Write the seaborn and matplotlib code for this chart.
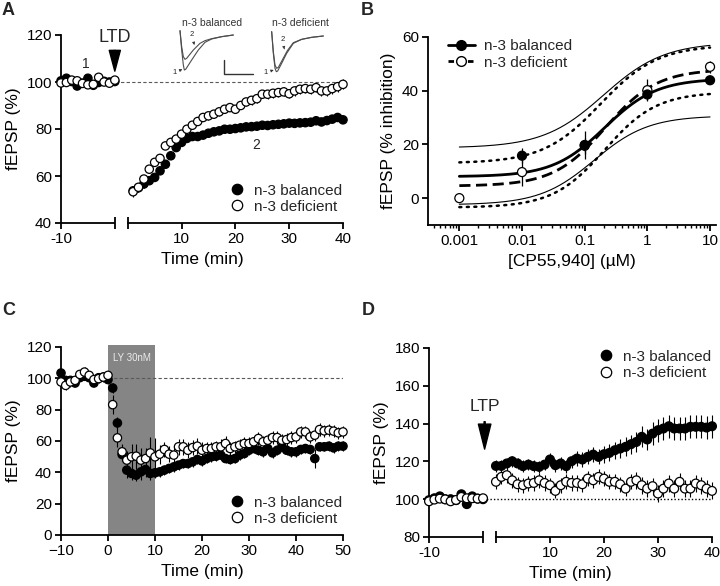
import numpy as np
import pandas as pd
import matplotlib
matplotlib.use('Agg')
import matplotlib.pyplot as plt
from matplotlib.lines import Line2D
from matplotlib.ticker import LogLocator, NullFormatter
import seaborn as sns

# %%%%%%%%%%%%%%%%%%%%%%%%%%%%%%%%%%%%%%%%%%%%%%%%%%%%%%%%%%%%%%%%%%%%%%%%%%%%%
#                         DATA
# %%%%%%%%%%%%%%%%%%%%%%%%%%%%%%%%%%%%%%%%%%%%%%%%%%%%%%%%%%%%%%%%%%%%%%%%%%%%%
groups = ['n-3 balanced', 'n-3 deficient']

# Panel A: LTD time course (baseline -10..0, post 1..40 min)
a_base_time = list(range(-10, 1))
a_base_bal = [100.5, 101.6, 100.2, 98.3, 99.5, 101.6, 98.6, 99.8, 100.3, 100.0, 100.2]
a_base_def = [99.6, 99.8, 100.8, 100.5, 99.4, 98.8, 99.0, 102.0, 100.0, 99.5, 100.8]
a_post_time = list(range(1, 41))
a_post_bal = [53.7, 55.0, 56.6, 58.0, 59.4, 62.2, 65.0, 68.6, 72.1, 74.3,
              76.0, 76.8, 76.8, 77.4, 78.2, 78.8, 79.2, 79.9, 79.9, 80.2,
              80.5, 80.9, 81.0, 81.2, 81.6, 81.5, 81.8, 82.0, 82.2, 82.5,
              82.4, 82.6, 82.7, 82.9, 83.5, 83.0, 83.6, 84.2, 84.9, 83.9]
a_post_def = [53.3, 55.2, 58.7, 62.9, 65.8, 67.5, 72.8, 74.3, 75.7, 77.8,
              79.9, 81.6, 83.2, 84.9, 85.6, 86.3, 87.3, 88.4, 89.1, 88.4,
              90.0, 91.5, 92.2, 92.9, 94.8, 94.8, 95.2, 95.5, 95.8, 95.0,
              96.2, 96.9, 97.2, 96.9, 97.6, 96.2, 96.2, 97.2, 98.0, 99.0]
a_base_err = [1.0, 1.0, 1.0, 1.0, 1.0, 1.0, 1.0, 1.0, 1.0, 1.0, 1.0]
a_post_bal_err = [2.0, 1.8, 1.6, 1.5, 1.5, 1.4, 1.4, 1.3, 1.3, 1.2,
                  1.2, 1.2, 1.1, 1.1, 1.1, 1.1, 1.1, 1.1, 1.1, 1.1,
                  1.2, 1.2, 1.2, 1.2, 1.2, 1.2, 1.2, 1.2, 1.2, 1.2,
                  1.3, 1.3, 1.3, 1.3, 1.3, 1.3, 1.3, 1.3, 1.4, 1.4]
a_post_def_err = [2.2, 1.8, 1.6, 1.5, 1.5, 1.5, 1.4, 1.4, 1.4, 1.4,
                  1.5, 1.5, 1.5, 1.5, 1.6, 1.6, 1.6, 1.6, 1.6, 1.7,
                  1.7, 1.8, 1.8, 1.8, 1.8, 1.9, 1.9, 1.9, 1.9, 2.0,
                  2.0, 2.0, 2.0, 2.0, 2.0, 2.1, 2.1, 2.1, 2.1, 2.1]

# Panel B: dose-response to CP55,940
b_conc_bal = [0.01, 0.1, 1, 10]
b_resp_bal = [15.8, 19.8, 38.6, 43.9]
b_err_bal = [2.8, 5.1, 2.2, 1.5]
b_conc_def = [0.001, 0.01, 0.1, 1, 10]
b_resp_def = [0.0, 9.7, 19.5, 40.2, 48.9]
b_err_def = [0.0, 5.0, 3.0, 4.0, 2.2]
# sigmoid fits: bottom, top, logEC50, hill slope
fit_bal = [8.0, 44.5, -0.68, 1.05]
fit_def = [4.5, 48.0, -0.67, 1.05]
ci_bal_upper = [18.7, 58.0, -0.70, 0.90]
ci_bal_lower = [-2.5, 30.7, -0.85, 1.00]
ci_def_upper = [13.0, 57.0, -0.75, 0.95]
ci_def_lower = [-3.5, 39.5, -0.68, 1.05]
b_xticks = [0.001, 0.01, 0.1, 1, 10]
b_xticklabels = ['0.001', '0.01', '0.1', '1', '10']

# Panel C: LY 30nM application (0-10 min)
c_time = list(range(-10, 51))
c_bal = [103.4, 98.7, 98.7, 97.0, 100.4, 101.3, 100.4, 97.0, 100.4, 100.8,
         99.2, 93.8, 71.5, 51.4, 41.4, 39.3, 38.2, 40.3, 41.8, 39.3,
         39.7, 40.3, 41.4, 42.5, 43.5, 44.6, 45.6, 45.6, 46.7, 48.2,
         47.3, 48.8, 49.9, 50.3, 51.0, 48.8, 48.2, 48.8, 51.0, 52.0,
         54.1, 55.2, 54.1, 53.1, 55.2, 52.4, 54.1, 56.3, 54.1, 53.1,
         53.1, 54.6, 55.2, 54.6, 48.8, 56.3, 56.3, 56.7, 55.6, 56.7, 56.7]
c_def = [97.7, 95.5, 97.7, 98.7, 102.5, 104.0, 101.9, 99.2, 99.8, 100.8,
         101.9, 83.2, 62.0, 53.1, 47.8, 49.9, 50.3, 47.8, 48.8, 52.4,
         49.9, 51.6, 54.6, 51.6, 51.0, 56.3, 56.3, 54.1, 55.8, 56.7,
         54.1, 55.2, 55.2, 56.3, 56.3, 58.4, 55.2, 56.3, 57.3, 58.4,
         58.4, 59.5, 61.6, 59.5, 60.5, 62.2, 62.2, 60.5, 60.9, 62.2,
         62.6, 65.8, 65.8, 62.6, 63.7, 67.3, 66.5, 66.9, 66.3, 65.2, 65.8]
c_bal_err = [2.0, 2.0, 2.0, 2.0, 2.0, 2.0, 2.0, 2.0, 2.0, 2.0,
             2.0, 3.0, 4.0, 4.0, 5.0, 4.0, 4.0, 5.0, 5.0, 4.0,
             3.0, 3.0, 3.0, 3.0, 3.0, 3.0, 3.0, 3.0, 3.0, 3.0,
             3.0, 3.0, 3.0, 3.0, 3.0, 3.0, 3.0, 3.0, 3.0, 3.0,
             3.0, 3.0, 3.0, 3.0, 3.0, 3.0, 3.0, 3.0, 3.0, 3.0,
             3.0, 3.0, 3.0, 3.0, 6.0, 3.0, 3.0, 3.0, 3.0, 3.0, 3.0]
c_def_err = [3.0, 3.0, 3.0, 3.0, 3.0, 3.0, 3.0, 3.0, 3.0, 3.0,
             3.0, 6.0, 6.0, 5.0, 6.0, 8.0, 8.0, 8.0, 7.0, 10.0,
             12.0, 6.0, 5.0, 5.0, 5.0, 5.0, 5.0, 5.0, 5.0, 5.0,
             5.0, 4.0, 4.0, 4.0, 5.0, 5.0, 4.0, 4.0, 4.0, 4.0,
             4.0, 4.0, 4.0, 4.0, 4.0, 4.0, 4.0, 4.0, 4.0, 4.0,
             4.0, 4.0, 4.0, 4.0, 4.0, 4.0, 4.0, 4.0, 4.0, 4.0, 4.0]

# Panel D: LTP time course (baseline -10..0, post 0..40 min)
d_base_time = list(range(-10, 1))
d_base_bal = [99.5, 100.5, 101.5, 100.0, 100.0, 99.5, 102.6, 97.4, 101.5, 100.3, 100.0]
d_base_def = [98.9, 99.8, 100.3, 99.9, 98.9, 99.6, 101.2, 100.5, 100.5, 100.3, 100.5]
d_base_err = [1.0, 1.0, 1.0, 1.0, 1.0, 1.0, 1.0, 1.0, 1.0, 1.0, 1.0]
d_post_time = list(range(0, 41))
d_post_bal = [117.6, 117.6, 118.9, 120.1, 118.9, 117.5, 118.3, 117.5, 117.1, 118.3,
              121.0, 118.0, 118.9, 117.5, 120.1, 121.5, 121.0, 122.4, 123.6, 122.4,
              123.8, 124.5, 125.9, 126.8, 127.7, 129.1, 130.3, 133.0, 131.6, 134.7,
              136.5, 137.4, 138.6, 137.4, 137.4, 137.4, 138.3, 138.3, 138.3, 137.9, 138.6]
d_post_def = [109.2, 111.8, 112.7, 110.0, 107.9, 107.4, 108.3, 108.6, 110.0, 108.6,
              107.4, 104.4, 107.4, 109.2, 108.6, 108.6, 107.9, 110.9, 110.0, 111.8,
              110.9, 109.2, 109.2, 107.9, 105.6, 109.2, 110.0, 107.4, 105.6, 106.9,
              103.0, 105.6, 108.3, 105.6, 109.2, 105.6, 105.6, 108.3, 107.4, 105.6, 104.4]
d_post_bal_err = [3.0, 3.0, 3.0, 3.0, 3.0, 3.0, 3.0, 3.0, 3.0, 3.0,
                  3.5, 3.5, 3.5, 3.5, 3.5, 4.0, 4.0, 4.0, 4.0, 4.0,
                  4.5, 4.5, 4.5, 5.0, 5.0, 5.0, 5.5, 5.5, 5.5, 6.0,
                  6.0, 6.0, 6.0, 6.0, 6.0, 6.0, 6.0, 6.0, 6.0, 6.0, 6.0]
d_post_def_err = [4.0, 4.0, 4.0, 4.0, 4.0, 4.0, 4.0, 4.0, 4.0, 4.0,
                  4.0, 4.0, 4.0, 4.0, 4.0, 4.0, 4.0, 4.0, 4.0, 4.0,
                  4.0, 4.0, 4.0, 4.0, 4.0, 4.0, 4.5, 4.5, 4.5, 4.5,
                  4.5, 4.5, 4.5, 4.5, 4.5, 4.5, 4.5, 4.5, 4.5, 4.5, 4.5]

# Example traces for the inset of panel A (arbitrary units, y downwards)
bal_trace1_x = [45, 50, 55, 58, 62, 80, 100, 120, 140, 170, 205]
bal_trace1_y = [62, 120, 165, 180, 178, 150, 120, 97, 87, 80, 75]
bal_trace2_x = [45, 50, 55, 60, 65, 85, 105, 120, 140, 170, 205]
bal_trace2_y = [62, 110, 140, 148, 145, 120, 100, 92, 86, 80, 75]
def_trace1_x = [320, 325, 330, 334, 338, 350, 365, 385, 410, 440, 475]
def_trace1_y = [65, 130, 175, 185, 183, 160, 130, 100, 88, 82, 78]
def_trace2_x = [320, 325, 330, 335, 340, 352, 367, 385, 410, 440, 475]
def_trace2_y = [65, 125, 165, 175, 172, 150, 122, 98, 88, 82, 78]

GAP = 2.4  # width of the axis break (min)

# %%%%%%%%%%%%%%%%%%%%%%%%%%%%%%%%%%%%%%%%%%%%%%%%%%%%%%%%%%%%%%%%%%%%%%%%%%%%%
#                         STYLE
# %%%%%%%%%%%%%%%%%%%%%%%%%%%%%%%%%%%%%%%%%%%%%%%%%%%%%%%%%%%%%%%%%%%%%%%%%%%%%
sns.set_theme(style="ticks")
plt.rcParams['font.family'] = ['Liberation Sans', 'DejaVu Sans']
plt.rcParams.update({
    'axes.linewidth': 1.3, 'axes.edgecolor': 'black',
    'xtick.major.width': 1.3, 'ytick.major.width': 1.3,
    'xtick.major.size': 4.5, 'ytick.major.size': 4.5,
    'xtick.minor.width': 1.0, 'xtick.minor.size': 2.5,
    'xtick.labelsize': 11, 'ytick.labelsize': 11,
    'xtick.color': 'black', 'ytick.color': 'black',
    'axes.labelsize': 12.5, 'axes.labelcolor': 'black',
    'xtick.major.pad': 2, 'ytick.major.pad': 2,
})
palette = {'n-3 balanced': 'black', 'n-3 deficient': 'white'}


def timecourse(ax, t_bal, y_bal, e_bal, t_def, y_def, e_def, s=36):
    ax.errorbar(t_bal, y_bal, yerr=e_bal, fmt='none', ecolor='black', elinewidth=0.8, zorder=2, clip_on=False)
    ax.errorbar(t_def, y_def, yerr=e_def, fmt='none', ecolor='black', elinewidth=0.8, zorder=2, clip_on=False)
    df = pd.DataFrame({'x': list(t_bal) + list(t_def),
                       'y': list(y_bal) + list(y_def),
                       'diet': [groups[0]] * len(t_bal) + [groups[1]] * len(t_def)})
    sns.scatterplot(data=df, x='x', y='y', hue='diet', palette=palette, hue_order=groups,
                    edgecolor='black', linewidth=0.9, s=s, legend=False, ax=ax,
                    zorder=3, clip_on=False)
    ax.set_xlabel('Time (min)')
    ax.set_ylabel('fEPSP (%)')


def marker_legend(ax, **kw):
    handles = [Line2D([], [], ls='none', marker='o', ms=7.5, mfc=palette[g], mec='black', mew=0.9)
               for g in groups]
    ax.legend(handles, groups, frameon=False, fontsize=11, handletextpad=0.6,
              labelspacing=0.15, handlelength=1.0, borderaxespad=0.2, **kw)


def broken_xaxis(ax, ybottom):
    # right segment is the real spine, left segment drawn as a line at the bottom limit
    ax.set_xlim(-10 - GAP, 40)
    ax.spines['bottom'].set_bounds(0, 40)
    ax.add_line(Line2D([-10 - GAP, -GAP], [ybottom, ybottom], color='black', lw=1.3,
                       clip_on=False, solid_capstyle='butt', zorder=5))
    ax.set_xticks([-10 - GAP, 10, 20, 30, 40], ['-10', '10', '20', '30', '40'])
    ax.set_xticks([-GAP, 0], minor=True)
    ax.tick_params(axis='x', which='minor', direction='inout', length=8, width=1.3)


fig = plt.figure(figsize=(7.2, 5.86), dpi=100)

# %%%%%%%%%%%%%%%%%%%%%%%%%%%%%%%%%%%%%%%%%%%%%%%%%%%%%%%%%%%%%%%%%%%%%%%%%%%%%
#                         PANEL A
# %%%%%%%%%%%%%%%%%%%%%%%%%%%%%%%%%%%%%%%%%%%%%%%%%%%%%%%%%%%%%%%%%%%%%%%%%%%%%
axA = fig.add_axes([61 / 720, 1 - 223 / 586, 282 / 720, 188 / 586])
a_bt = [t - GAP for t in a_base_time]
timecourse(axA, a_bt + a_post_time, a_base_bal + a_post_bal, a_base_err + a_post_bal_err,
           a_bt + a_post_time, a_base_def + a_post_def, a_base_err + a_post_def_err)
axA.hlines(100, -GAP, 40, colors='0.35', linestyles=(0, (3, 2)), lw=0.8, zorder=1)
axA.set_ylim(40, 120)
axA.set_yticks([40, 60, 80, 100, 120])
sns.despine(ax=axA)
broken_xaxis(axA, 40)
axA.annotate('', xy=(-GAP, 104.6), xytext=(-GAP, 113.5),
             arrowprops=dict(facecolor='black', edgecolor='black', width=0.8, headwidth=8, headlength=15))
axA.text(-GAP, 115.5, 'LTD', ha='center', va='bottom', fontsize=13)
axA.text(-5.4 - GAP, 104.5, '1', ha='center', va='bottom', fontsize=10)
axA.text(23.9, 73, '2', ha='center', va='center', fontsize=10)
marker_legend(axA, loc='lower right', bbox_to_anchor=(1.03, 0.0))

# inset traces
axI = fig.add_axes([165 / 720, 1 - 80 / 586, 180 / 720, 70 / 586])
axI.set_xlim(0, 540)
axI.set_ylim(210, 0)
axI.axis('off')
for xs, ys in [(bal_trace1_x, bal_trace1_y), (bal_trace2_x, bal_trace2_y),
               (def_trace1_x, def_trace1_y), (def_trace2_x, def_trace2_y)]:
    axI.plot(xs, ys, color='0.3', lw=0.8)
axI.plot([178, 178, 265], [150, 192, 192], color='0.2', lw=1.0)
axI.text(140, 40, 'n-3 balanced', ha='center', va='center', fontsize=7.5, color='0.2')
axI.text(405, 40, 'n-3 deficient', ha='center', va='center', fontsize=7.5, color='0.2')
ap = dict(arrowstyle='-|>', lw=0.5, color='0.2', mutation_scale=4)
axI.annotate('1', xy=(52, 178), xytext=(22, 188), fontsize=5.5, va='center', arrowprops=ap)
axI.annotate('2', xy=(88, 105), xytext=(80, 72), fontsize=5.5, ha='center', va='center', arrowprops=ap)
axI.annotate('1', xy=(326, 180), xytext=(296, 188), fontsize=5.5, va='center', arrowprops=ap)
axI.annotate('2', xy=(358, 118), xytext=(352, 88), fontsize=5.5, ha='center', va='center', arrowprops=ap)

# %%%%%%%%%%%%%%%%%%%%%%%%%%%%%%%%%%%%%%%%%%%%%%%%%%%%%%%%%%%%%%%%%%%%%%%%%%%%%
#                         PANEL B
# %%%%%%%%%%%%%%%%%%%%%%%%%%%%%%%%%%%%%%%%%%%%%%%%%%%%%%%%%%%%%%%%%%%%%%%%%%%%%
axB = fig.add_axes([428 / 720, 1 - 225 / 586, 288.3 / 720, 188 / 586])
conc = np.logspace(-3, 1, 200)


def sigmoid(p):
    bottom, top, logec50, hill = p
    return bottom + (top - bottom) / (1 + 10 ** ((logec50 - np.log10(conc)) * hill))


axB.plot(conc, sigmoid(ci_bal_upper), color='black', lw=0.8)
axB.plot(conc, sigmoid(ci_bal_lower), color='black', lw=0.8)
axB.plot(conc, sigmoid(ci_def_upper), color='black', lw=1.8, ls=(0, (0.8, 2.2)), dash_capstyle='round')
axB.plot(conc, sigmoid(ci_def_lower), color='black', lw=1.8, ls=(0, (0.8, 2.2)), dash_capstyle='round')
axB.plot(conc, sigmoid(fit_def), color='black', lw=2.0, ls=(0, (4, 2)))
axB.plot(conc, sigmoid(fit_bal), color='black', lw=2.0)
axB.errorbar(b_conc_def, b_resp_def, yerr=b_err_def, fmt='none', ecolor='black', elinewidth=0.9, zorder=3)
axB.errorbar(b_conc_bal, b_resp_bal, yerr=b_err_bal, fmt='none', ecolor='black', elinewidth=0.9, zorder=3)
df_b = pd.DataFrame({'conc': b_conc_def + b_conc_bal,
                     'resp': b_resp_def + b_resp_bal,
                     'diet': [groups[1]] * len(b_conc_def) + [groups[0]] * len(b_conc_bal)})
sns.scatterplot(data=df_b, x='conc', y='resp', hue='diet', palette=palette, edgecolor='black',
                linewidth=0.9, s=42, legend=False, ax=axB, zorder=4, clip_on=False)
axB.set_xscale('log')
axB.set_xlim(10 ** -3.5, 10 ** 1.1)
axB.set_ylim(-10, 60)
axB.set_yticks([0, 20, 40, 60])
axB.set_xticks(b_xticks, b_xticklabels)
axB.xaxis.set_minor_locator(LogLocator(base=10, subs=np.arange(2, 10)))
axB.xaxis.set_minor_formatter(NullFormatter())
axB.set_xlabel('[CP55,940] (µM)')
axB.set_ylabel('fEPSP (% inhibition)')
sns.despine(ax=axB)
hB = [Line2D([], [], color='black', lw=2.0, marker='o', ms=7, mfc='black', mec='black'),
      Line2D([], [], color='black', lw=2.0, ls=(0, (2, 1.5)), marker='o', ms=7, mfc='white', mec='black')]
axB.legend(hB, groups, loc='upper left', bbox_to_anchor=(0.02, 1.06), frameon=False, fontsize=11,
           handlelength=1.8, handletextpad=0.6, labelspacing=0.15)

# %%%%%%%%%%%%%%%%%%%%%%%%%%%%%%%%%%%%%%%%%%%%%%%%%%%%%%%%%%%%%%%%%%%%%%%%%%%%%
#                         PANEL C
# %%%%%%%%%%%%%%%%%%%%%%%%%%%%%%%%%%%%%%%%%%%%%%%%%%%%%%%%%%%%%%%%%%%%%%%%%%%%%
axC = fig.add_axes([61 / 720, 1 - 535 / 586, 282 / 720, 188 / 586])
axC.axvspan(0, 10, ymin=0, ymax=121.5 / 120, color='#858585', lw=0, zorder=0, clip_on=False)
axC.text(5, 113, 'LY 30nM', ha='center', va='center', fontsize=7, color='#ececec')
timecourse(axC, c_time, c_bal, c_bal_err, c_time, c_def, c_def_err)
axC.hlines(100, 0, 50, colors='0.35', linestyles=(0, (3, 2)), lw=0.8, zorder=1)
axC.set_xlim(-10, 50)
axC.set_ylim(0, 120)
axC.set_xticks(range(-10, 51, 10))
axC.set_yticks(range(0, 121, 20))
sns.despine(ax=axC)
marker_legend(axC, loc='lower right', bbox_to_anchor=(1.03, 0.0))

# %%%%%%%%%%%%%%%%%%%%%%%%%%%%%%%%%%%%%%%%%%%%%%%%%%%%%%%%%%%%%%%%%%%%%%%%%%%%%
#                         PANEL D
# %%%%%%%%%%%%%%%%%%%%%%%%%%%%%%%%%%%%%%%%%%%%%%%%%%%%%%%%%%%%%%%%%%%%%%%%%%%%%
axD = fig.add_axes([429 / 720, 1 - 537 / 586, 283 / 720, 189 / 586])
d_bt = [t - GAP for t in d_base_time]
timecourse(axD, d_bt + d_post_time, d_base_bal + d_post_bal, d_base_err + d_post_bal_err,
           d_bt + d_post_time, d_base_def + d_post_def, d_base_err + d_post_def_err, s=40)
axD.hlines(100, -GAP, 40, colors='black', linestyles=(0, (1, 1.5)), lw=1.0, zorder=1)
axD.set_ylim(80, 180)
axD.set_yticks(range(80, 181, 20))
sns.despine(ax=axD)
broken_xaxis(axD, 80)
axD.annotate('', xy=(-GAP + 0.3, 126.5), xytext=(-GAP + 0.3, 141),
             arrowprops=dict(facecolor='black', edgecolor='black', width=0.8, headwidth=9, headlength=18))
axD.text(-GAP + 0.3, 145, 'LTP', ha='center', va='bottom', fontsize=12.5)
marker_legend(axD, loc='upper right', bbox_to_anchor=(1.03, 1.04))

# panel letters
for lab, x, y in [('A', 2, 2), ('B', 361, 2), ('C', 2, 302), ('D', 362, 302)]:
    fig.text(x / 720, 1 - y / 586, lab, fontsize=13, fontweight='bold', ha='left', va='top')

fig.savefig('out.png', dpi=100)
